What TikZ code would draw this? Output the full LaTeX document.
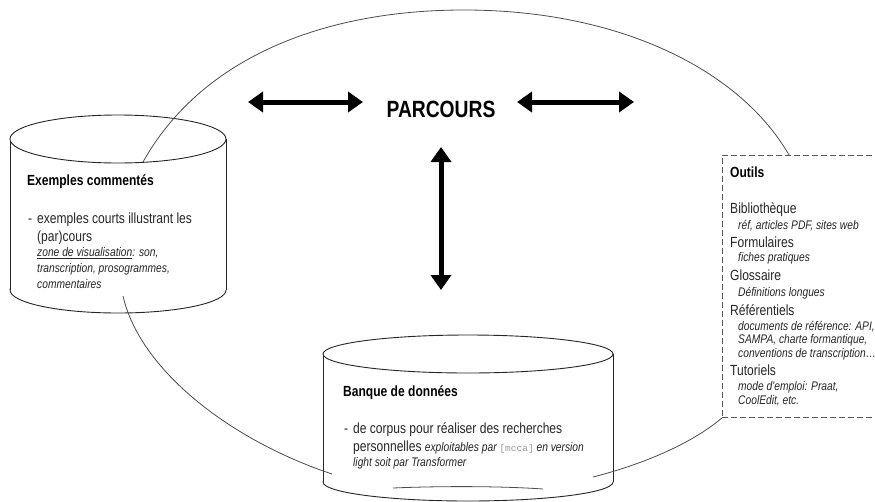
\documentclass[tikz,border=0pt]{standalone}
\usepackage{fontspec}
\setmainfont{Liberation Sans}
\newfontfamily\narrow[FakeStretch=0.82]{Liberation Sans}
\newfontfamily\monotxt{Liberation Mono}
\usetikzlibrary{arrows.meta}
\begin{document}
\begin{tikzpicture}[x=1pt,y=-1pt,
  rimline/.style={draw=black!85, line width=0.9pt},
  loopline/.style={draw=black!70, line width=0.8pt},
  bigarrow/.style={line width=5pt, {Triangle[length=15pt,width=20pt]}-{Triangle[length=15pt,width=20pt]}},
  txt/.style={anchor=west, inner sep=0pt, text=black!85, font=\narrow\fontsize{14.7}{16}\selectfont},
  headtxt/.style={anchor=west, inner sep=0pt, text=black, font=\narrow\bfseries\fontsize{14.7}{16}\selectfont},
  notetxt/.style={anchor=west, inner sep=0pt, text=black!85, font=\narrow\itshape\fontsize{12.5}{14}\selectfont},
  toolbox/.style={draw=black!65, line width=0.9pt, dash pattern=on 6pt off 3pt, inner sep=0pt},
]
\path[use as bounding box] (0,0) rectangle (875,501);
\clip (0,0) rectangle (875,501);

% cylinder: Exemples commentés
\filldraw[rimline, fill=white] (118,290) ellipse [x radius=108, y radius=23];
\fill[white] (10,139) rectangle (226,290);
\draw[rimline] (10,139) -- (10,290) (226,139) -- (226,290);
\filldraw[rimline, fill=white] (118,139) ellipse [x radius=108, y radius=24];

% cylinder: Banque de données
\filldraw[rimline, fill=white] (468,482) ellipse [x radius=145, y radius=19];
\fill[white] (323,354) rectangle (613,482);
\draw[rimline] (323,354) -- (323,482) (613,354) -- (613,482);
\filldraw[rimline, fill=white] (468,354) ellipse [x radius=145, y radius=19];

% tools box
\node[toolbox, minimum width=160, minimum height=262, anchor=north west] (outils) at (722,155) {};

% end points of the loop
\coordinate (exTop) at (143,162);
\coordinate (exBot) at (123,296);
\coordinate (bqLeft) at (332,474);
\coordinate (bqRight) at (593,477);
\coordinate (toolTop) at (789,155);
\coordinate (toolCorner) at (outils.south west);
\coordinate (bqInA) at (393,488);
\coordinate (bqInB) at (543,489);

% the loop joining the three parts
\draw[loopline] (exTop) .. controls (200,60) and (320,10) .. (464,10)
                 .. controls (620,10) and (740,70) .. (toolTop);
\draw[loopline] (exBot) .. controls (140,370) and (230,440) .. (bqLeft);
\draw[loopline] (bqRight) .. controls (640,465) and (690,445) .. (toolCorner);
\draw[loopline] (bqInA) .. controls (440,486) and (500,486) .. (bqInB);

% title and arrows
\node[inner sep=0pt, font=\narrow\bfseries\fontsize{23.5}{26}\selectfont] (parcours) at (441,109) {PARCOURS};
\coordinate (lA) at (248,102); \coordinate (lB) at (363,102);
\coordinate (rA) at (517,102); \coordinate (rB) at (634,102);
\coordinate (vA) at (441,147); \coordinate (vB) at (441,290);
\draw[bigarrow] (lA) -- (lB);
\draw[bigarrow] (rA) -- (rB);
\draw[bigarrow] (vA) -- (vB);

% texts: Exemples commentés
\node[headtxt] (exHead) at (27,182) {Exemples commentés};
\node[txt] (exDash) at (28,221) {-};
\node[txt] (exL1) at (37,220) {exemples courts illustrant les};
\node[txt] (exL2) at (37,238) {(par)cours};
\node[notetxt] (exN1) at (37,253) {\underline{zone de visualisation}: son,};
\node[notetxt] (exN2) at (37,269) {transcription, prosogrammes,};
\node[notetxt] (exN3) at (37,284) {commentaires};

% texts: Banque de données
\node[headtxt] (bqHead) at (343,393) {Banque de données};
\node[txt] (bqDash) at (344,431) {-};
\node[txt] (bqL1) at (353,430) {de corpus pour réaliser des recherches};
\node[txt] (bqL2) at (353,448) {personnelles {\itshape\fontsize{12.5}{14}\selectfont exploitables par {\monotxt\upshape\fontsize{9.5}{11}\selectfont\color{black!40}[mcca]} en version}};
\node[notetxt] (bqN1) at (353,463) {light soit par Transformer};

% texts: Outils
\node[headtxt] (olHead) at (730,172) {Outils};
\node[txt] (ol1) at (730,210) {Bibliothèque};
\node[notetxt] (ol1n) at (738,226) {réf, articles PDF, sites web};
\node[txt] (ol2) at (730,242) {Formulaires};
\node[notetxt] (ol2n) at (738,258) {fiches pratiques};
\node[txt] (ol3) at (730,275) {Glossaire};
\node[notetxt] (ol3n) at (738,293) {Définitions longues};
\node[txt] (ol4) at (730,310) {Référentiels};
\node[notetxt] (ol4n) at (738,327) {documents de référence: API,};
\node[notetxt] (ol4m) at (738,340) {SAMPA, charte formantique,};
\node[notetxt] (ol4o) at (738,354) {conventions de transcription…};
\node[txt] (ol5) at (730,370) {Tutoriels};
\node[notetxt] (ol5n) at (738,387) {mode d'emploi: Praat,};
\node[notetxt] (ol5m) at (738,401) {CoolEdit, etc.};
\end{tikzpicture}
\end{document}
